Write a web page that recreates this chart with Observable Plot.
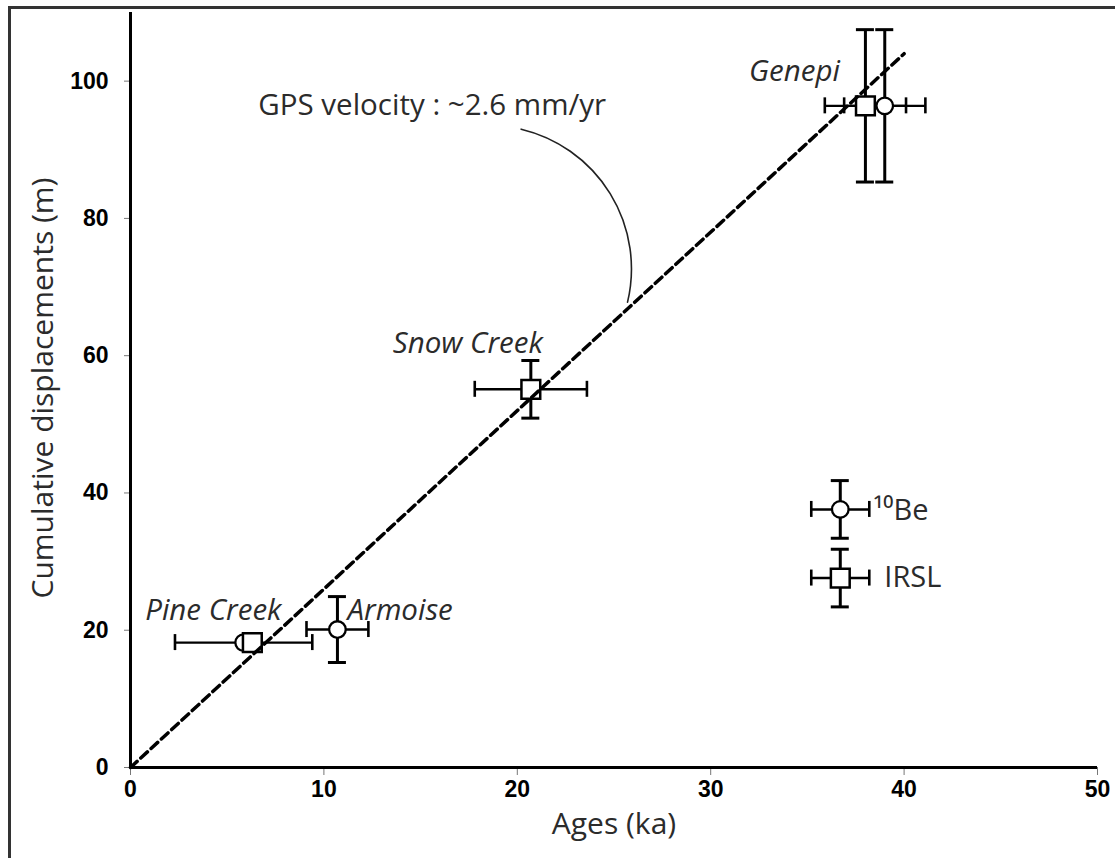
<!DOCTYPE html>
<html><head><meta charset="utf-8">
<script src="https://cdn.jsdelivr.net/npm/d3@7"></script>
<script src="https://cdn.jsdelivr.net/npm/@observablehq/plot@0.6"></script>
<style>
html,body{margin:0;padding:0;background:#fff;width:1115px;height:858px;overflow:hidden;}
#frame{position:absolute;left:8px;top:6px;width:1200px;height:1000px;border-left:3px solid #333;border-top:3px solid #333;}
#chart{position:absolute;left:0;top:0;}
</style></head><body>
<div id="frame"></div><div id="chart"></div>
<script>
// 10Be ages (circles)
const beSite = ["Pine Creek", "Armoise", "Genepi"];
const beAge = [5.85, 10.7, 39.0];
const beAgeErr = [3.55, 1.6, 2.1];
const beDisp = [18.2, 20.1, 96.4];
const beDispErr = [null, 4.8, 11.1];
// IRSL ages (squares)
const irslSite = ["Pine Creek", "Snow Creek", "Genepi"];
const irslAge = [6.3, 20.7, 38.0];
const irslAgeErr = [null, 2.9, 2.1];
const irslDisp = [18.2, 55.1, 96.4];
const irslDispErr = [null, 4.2, 11.1];
// GPS velocity reference line (m per ka)
const gpsRate = 2.6;
const gpsAges = [0, 40];
// annotation
const gpsLabel = "GPS velocity : ~2.6 mm/yr";
const gpsLabelAt = [15.6, 96.4];
const gpsLeader = [20.2, 93.0, 25.7, 67.8];
// legend
const legendLabels = ["¹⁰Be", "IRSL"];
const legendAge = 36.7, legendAgeErr = 1.5;
const legendDisp = [37.6, 27.6], legendDispErr = 4.2;
// axes
const xTicks = [0, 10, 20, 30, 40, 50];
const yTicks = [0, 20, 40, 60, 80, 100];
const xTitle = "Ages (ka)";
const yTitle = "Cumulative displacements (m)";

const be = beSite.map((s, i) => ({site: s, age: beAge[i], ageErr: beAgeErr[i], disp: beDisp[i], dispErr: beDispErr[i]}));
const irsl = irslSite.map((s, i) => ({site: s, age: irslAge[i], ageErr: irslAgeErr[i], disp: irslDisp[i], dispErr: irslDispErr[i]}));
const legBe = [{age: legendAge, ageErr: legendAgeErr, disp: legendDisp[0], dispErr: legendDispErr, label: legendLabels[0]}];
const legIrsl = [{age: legendAge, ageErr: legendAgeErr, disp: legendDisp[1], dispErr: legendDispErr, label: legendLabels[1]}];
const all = [...be, ...irsl, ...legBe, ...legIrsl];
const hb = all.filter(d => d.ageErr != null);
const vb = all.filter(d => d.dispErr != null);
const gps = gpsAges.map(a => ({age: a, disp: a * gpsRate}));

const labelFont = {fontFamily: "Open Sans", fontStyle: "italic", fontSize: 29.5, fill: "#2b2b2b"};
function siteLabel(site, dx, dy, anchor) {
  return Plot.text(irsl.concat(be).filter(d => d.site === site).slice(0, 1),
    {x: "age", y: "disp", text: d => d.site, dx, dy, textAnchor: anchor, ...labelFont});
}

const chart = Plot.plot({
  width: 1115, height: 858,
  marginLeft: 130, marginRight: 18, marginTop: 12, marginBottom: 91,
  x: {domain: [0, 50]},
  y: {domain: [0, 110]},
  style: {background: "transparent", overflow: "visible"},
  marks: [
    Plot.axisY({ticks: yTicks, tickSize: 6, tickPadding: 16, stroke: "#777", label: null,
      fontFamily: "Liberation Sans", fontWeight: "bold", fontSize: 23, fill: "#000", style: "letter-spacing:1px"}),
    Plot.axisX({ticks: xTicks, tickSize: 8, tickPadding: 5, stroke: "#777", label: null,
      fontFamily: "Liberation Sans", fontWeight: "bold", fontSize: 23, fill: "#000"}),
    Plot.ruleX([0], {stroke: "#000", strokeWidth: 3}),
    Plot.ruleY([0], {stroke: "#000", strokeWidth: 3}),
    // horizontal error bars
    Plot.ruleY(hb, {y: "disp", x1: d => d.age - d.ageErr, x2: d => d.age + d.ageErr, stroke: "#000", strokeWidth: 2.4}),
    Plot.ruleX(hb, {x: d => d.age - d.ageErr, y1: "disp", y2: "disp", insetTop: -8, insetBottom: -8, stroke: "#000", strokeWidth: 2.6}),
    Plot.ruleX(hb, {x: d => d.age + d.ageErr, y1: "disp", y2: "disp", insetTop: -8, insetBottom: -8, stroke: "#000", strokeWidth: 2.6}),
    // vertical error bars
    Plot.ruleX(vb, {x: "age", y1: d => d.disp - d.dispErr, y2: d => d.disp + d.dispErr, stroke: "#000", strokeWidth: 3}),
    Plot.ruleY(vb, {y: d => d.disp - d.dispErr, x1: "age", x2: "age", insetLeft: -9, insetRight: -9, stroke: "#000", strokeWidth: 3}),
    Plot.ruleY(vb, {y: d => d.disp + d.dispErr, x1: "age", x2: "age", insetLeft: -9, insetRight: -9, stroke: "#000", strokeWidth: 3}),
    // markers
    Plot.dot([...be, ...legBe], {x: "age", y: "disp", r: 8.3, symbol: "circle", fill: "#fff", stroke: "#000", strokeWidth: 2.3}),
    Plot.dot([...irsl, ...legIrsl], {x: "age", y: "disp", r: 10.6, symbol: "square", fill: "#fff", stroke: "#000", strokeWidth: 2.5}),
    // GPS velocity line
    Plot.line(gps, {x: "age", y: "disp", stroke: "#000", strokeWidth: 3.5, strokeDasharray: "9,5"}),
    // annotation
    Plot.arrow([gpsLeader], {x1: d => d[0], y1: d => d[1], x2: d => d[2], y2: d => d[3], bend: 45, headLength: 0, stroke: "#222", strokeWidth: 1.6}),
    Plot.text([gpsLabel], {x: () => gpsLabelAt[0], y: () => gpsLabelAt[1], text: d => d, fontFamily: "Open Sans", fontSize: 29.5, fill: "#2b2b2b"}),
    // site labels
    siteLabel("Pine Creek", -39, -32, "middle"),
    siteLabel("Armoise", 10, -19, "start"),
    siteLabel("Snow Creek", -63, -46, "middle"),
    siteLabel("Genepi", -71, -34, "middle"),
    // legend labels
    Plot.text(legBe, {x: "age", y: "disp", text: "label", dx: 33, dy: 1, textAnchor: "start", fontFamily: "Open Sans", fontSize: 29, fill: "#2b2b2b"}),
    Plot.text(legIrsl, {x: "age", y: "disp", text: "label", dx: 44, dy: 0, textAnchor: "start", fontFamily: "Open Sans", fontSize: 29, fill: "#2b2b2b"})
  ]
});
document.getElementById("chart").appendChild(chart);

// axis titles
const svg = d3.select(chart);
svg.append("text").attr("x", 614).attr("y", 834).attr("text-anchor", "middle")
  .attr("font-family", "Open Sans").attr("font-size", 30).attr("fill", "#2b2b2b").text(xTitle);
svg.append("text").attr("transform", "translate(42,388) rotate(-90)").attr("text-anchor", "middle").attr("dy", "0.35em")
  .attr("font-family", "Open Sans").attr("font-size", 30).attr("fill", "#2b2b2b").text(yTitle);
</script>
</body></html>
